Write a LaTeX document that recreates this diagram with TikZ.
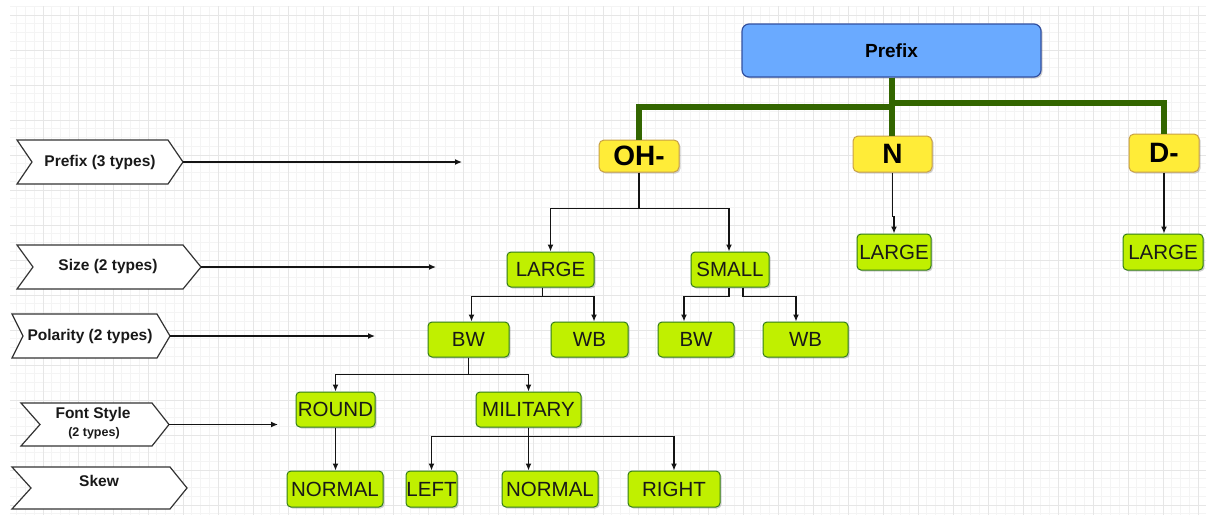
\documentclass[tikz,border=0pt]{standalone}
\usepackage{fontspec}
\setmainfont{Liberation Sans}
\usetikzlibrary{calc,arrows.meta,shadows}
\definecolor{gridmajor}{HTML}{E6E6E6}
\definecolor{gridminor}{HTML}{F4F4F4}
\definecolor{blueFill}{RGB}{106,170,255}
\definecolor{blueLine}{RGB}{50,80,160}
\definecolor{yelFill}{RGB}{255,236,56}
\definecolor{yelLine}{RGB}{200,160,70}
\definecolor{grnFill}{RGB}{192,240,0}
\definecolor{grnLine}{RGB}{50,125,25}
\definecolor{trunk}{RGB}{51,102,0}
\definecolor{lineDark}{RGB}{20,20,20}
\newcommand\mychevron[7]{%
  \draw[chevstyle] (#2,#5) -- (#3,#5) -- (#4,{(#5+#6)/2}) -- (#3,#6) -- (#2,#6) -- (#7,{(#5+#6)/2}) -- cycle;
  \coordinate (#1) at (#4,{(#5+#6)/2});}
\begin{document}
\begin{tikzpicture}[x=1pt,y=-1pt,
  shadowed/.style={drop shadow={shadow xshift=1.5pt,shadow yshift=-1.5pt,opacity=0.3,fill=black!60}},
  prefixbox/.style={draw=blueLine,fill=blueFill,line width=1.2pt,rounded corners=7pt,inner sep=0pt,
    font=\fontsize{19}{22}\selectfont\bfseries,shadowed},
  yelbox/.style={draw=yelLine,fill=yelFill,line width=1pt,rounded corners=5pt,inner sep=0pt,
    font=\fontsize{28}{32}\selectfont\bfseries,shadowed},
  gbox/.style={draw=grnLine,fill=grnFill,line width=1pt,rounded corners=4pt,inner sep=0pt,
    font=\fontsize{20.5}{24}\selectfont,text=black!90,shadowed},
  trunkline/.style={draw=trunk,line width=6pt},
  conn/.style={draw=lineDark,line width=1.3pt,-{Latex[length=7pt,width=6pt]}},
  chevstyle/.style={draw=black!80,fill=white,line width=1.2pt,line join=miter},
  chevtext/.style={font=\fontsize{15.5}{18}\selectfont\bfseries,inner sep=0pt,text=black!90},
]
\useasboundingbox (0,0) rectangle (1206,515);
\fill[white] (0,0) rectangle (1206,515);
% grid
\foreach \i in {1,...,136} { \draw[gridminor,line width=0.8pt] ({8+8.75*\i},6) -- ({8+8.75*\i},515); }
\foreach \j in {3,...,61} { \draw[gridminor,line width=0.8pt] (10,{-20+8.75*\j}) -- (1206,{-20+8.75*\j}); }
\foreach \k in {0,...,33} { \draw[gridmajor,line width=1pt] ({43+35*\k},6) -- ({43+35*\k},515); }
\foreach \k in {0,...,14} { \draw[gridmajor,line width=1pt] (10,{15+35*\k}) -- (1206,{15+35*\k}); }

% top level
\node[prefixbox,minimum width=299pt,minimum height=53pt] (prefix) at (891.5,50.5) {Prefix};
\node[yelbox,minimum width=80pt,minimum height=32pt] (oh) at (639,156) {OH-};
\node[yelbox,minimum width=79pt,minimum height=36pt] (n) at (892.5,154) {N};
\node[yelbox,minimum width=70pt,minimum height=38pt] (d) at (1164,153) {D-};

% green nodes
\node[gbox,minimum width=87pt,minimum height=35pt] (large1) at (550.5,269.5) {LARGE};
\node[gbox,minimum width=78pt,minimum height=35pt] (small) at (730,269.5) {SMALL};
\node[gbox,minimum width=81pt,minimum height=35pt] (bw1) at (468.5,339.5) {BW};
\node[gbox,minimum width=77pt,minimum height=35pt] (wb1) at (589.5,339.5) {WB};
\node[gbox,minimum width=76pt,minimum height=35pt] (bw2) at (696,339.5) {BW};
\node[gbox,minimum width=85pt,minimum height=35pt] (wb2) at (805.5,339.5) {WB};
\node[gbox,minimum width=79pt,minimum height=35pt] (round) at (335.5,409.5) {ROUND};
\node[gbox,minimum width=105pt,minimum height=35pt] (military) at (528.5,409.5) {MILITARY};
\node[gbox,minimum width=96pt,minimum height=36pt] (normal1) at (335,489) {NORMAL};
\node[gbox,minimum width=51pt,minimum height=36pt] (left) at (431.5,489) {LEFT};
\node[gbox,minimum width=96pt,minimum height=36pt] (normal2) at (550,489) {NORMAL};
\node[gbox,minimum width=92pt,minimum height=36pt] (right) at (674,489) {RIGHT};
\node[gbox,minimum width=74pt,minimum height=36pt] (large3) at (894,252) {LARGE};
\node[gbox,minimum width=80pt,minimum height=36pt] (large4) at (1163,252) {LARGE};

% thick trunk connectors
\draw[trunkline] (prefix.south) -- ++(0,29) -| (oh.north);
\draw[trunkline] (prefix.south) -- ++(0,25) -| (d.north);
\draw[trunkline] (prefix.south) -- (prefix.south |- n.north);

% black connectors
\draw[conn] (oh.south) -- ++(0,36) -| (large1.north);
\draw[conn] (oh.south) -- ++(0,36) -| ($(small.north)+(-1,0)$);
\draw[conn] ($(large1.south)+(-8,0)$) -- ++(0,9) -| ($(bw1.north)+(3,0)$);
\draw[conn] ($(large1.south)+(-8,0)$) -- ++(0,9) -| ($(wb1.north)+(4.5,0)$);
\draw[conn] ($(small.south)+(-1,0)$) -- ++(0,9) -| ($(bw2.north)+(-12,0)$);
\draw[conn] ($(small.south)+(13,0)$) -- ++(0,9) -| ($(wb2.north)+(-9.5,0)$);
\draw[conn] (bw1.south) -- ++(0,17) -| (round.north);
\draw[conn] (bw1.south) -- ++(0,17) -| (military.north);
\draw[conn] (round.south) -- (round.south |- normal1.north);
\draw[conn] (military.south) -- (military.south |- normal2.north);
\draw[conn] (military.south) -- ++(0,9) -| (left.north);
\draw[conn] (military.south) -- ++(0,9) -| (right.north);
\draw[conn] (n.south) -- ++(0,44) -| (large3.north);
\draw[conn] (d.south) -- (d.south |- large4.north);

% left-side chevron labels
\mychevron{t1}{17}{168}{183}{140}{184}{32}
\node[chevtext] (lab1) at (100,162) {Prefix (3 types)};
\coordinate (e1) at (462,162);
\draw[conn] (t1) -- (e1);

\mychevron{t2}{17}{183}{201}{245}{289}{33}
\node[chevtext] (lab2) at (108,266) {Size (2 types)};
\coordinate (e2) at (436,267);
\draw[conn] (t2) -- (e2);

\mychevron{t3}{12}{157}{170}{314}{358}{23}
\node[chevtext] (lab3) at (90,336) {Polarity (2 types)};
\coordinate (e3) at (375,336);
\draw[conn] (t3) -- (e3);

\mychevron{t4}{21}{152}{169}{403}{446}{40}
\node[chevtext] (lab4) at (93,414) {Font Style};
\node[chevtext,font=\fontsize{12.5}{15}\selectfont\bfseries] (lab4b) at (94,433) {(2 types)};
\coordinate (e4) at (278,424.5);
\draw[conn] (t4) -- (e4);

\mychevron{t5}{12}{170}{187}{467}{509}{31}
\node[chevtext] (lab5) at (99,481) {Skew};
\end{tikzpicture}
\end{document}
